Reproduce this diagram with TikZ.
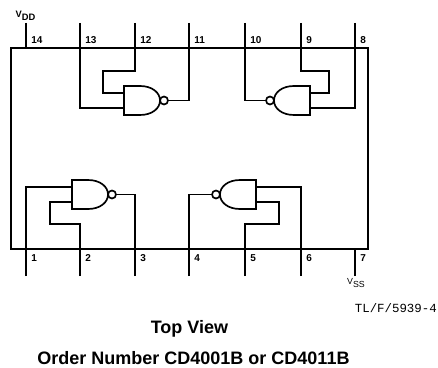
\documentclass[tikz,border=0pt]{standalone}
\usepackage{fontspec}
\setmainfont{Liberation Sans}
\setmonofont{Liberation Mono}
\tikzset{
	wire/.style={line width=1.25pt, line join=miter},
	pinlabel/.style={font=\fontsize{7.5}{8}\selectfont\bfseries, inner sep=0pt, anchor=west},
	railname/.style={font=\fontsize{6.6}{8}\selectfont, inner sep=0pt},
	title/.style={font=\fontsize{13.5}{15}\selectfont\bfseries, inner sep=0pt, anchor=base},
	pics/nandgate/.style={code={
		\draw[wire] (0,-14.5) -- (16,-14.5) .. controls (28,-14.5) and (36,-8) .. (36,0)
			.. controls (36,8) and (28,14.5) .. (16,14.5) -- (0,14.5) -- cycle;
		\draw[wire] (40,0) circle[radius=4];
		\coordinate (-in1) at (0,-7.5);
		\coordinate (-in2) at (0,7.5);
		\coordinate (-out) at (44,0);
	}},
}
\begin{document}
\begin{tikzpicture}[x=0.75pt,y=-0.75pt]
		\useasboundingbox (0,0) rectangle (438,367);
		\node[draw, line width=1.25pt, minimum width=267.75pt, minimum height=150.75pt, inner sep=0pt, outer sep=0pt] (chip) at (189.5,148.5) {};
		
		% top row of pins
		\foreach \n/\x in {14/26, 13/80, 12/135, 11/189, 10/245, 9/301, 8/355}{
			\coordinate (end\n) at (\x,23);
			\coordinate (edge\n) at (\x,48);
			\draw[wire] (end\n) -- (edge\n);
			\node[pinlabel] (label\n) at ({\x+5},40) {\n};
		}
		% bottom row of pins
		\foreach \n/\x in {1/26, 2/80, 3/135, 4/189, 5/245, 6/301, 7/355}{
			\coordinate (end\n) at (\x,276);
			\coordinate (edge\n) at (\x,249);
			\draw[wire] (end\n) -- (edge\n);
			\node[pinlabel] (label\n) at ({\x+5},258.5) {\n};
		}
		
		\pic (gateA) at (124,100.5) {nandgate};
		\pic[rotate=180] (gateB) at (310,100.5) {nandgate};
		\pic (gateC) at (72,194.5) {nandgate};
		\pic[rotate=180] (gateD) at (256,194.5) {nandgate};
		
		\coordinate (jogA) at (103,71);
		\coordinate (jogB) at (329,71);
		\coordinate (jogC) at (50,224);
		\coordinate (jogD) at (279,224);
		
		\draw[wire] (edge12) |- (jogA) |- (gateA-in1);
		\draw[wire] (edge13) |- (gateA-in2);
		\draw[wire] (gateA-out) -| (edge11);
		
		\draw[wire] (edge9) |- (jogB) |- (gateB-in2);
		\draw[wire] (edge8) |- (gateB-in1);
		\draw[wire] (gateB-out) -| (edge10);
		
		\draw[wire] (edge1) |- (gateC-in1);
		\draw[wire] (edge2) |- (jogC) |- (gateC-in2);
		\draw[wire] (gateC-out) -| (edge3);
		
		\draw[wire] (edge6) |- (gateD-in2);
		\draw[wire] (edge5) |- (jogD) |- (gateD-in1);
		\draw[wire] (gateD-out) -| (edge4);
		
		\node[railname, font=\fontsize{7}{8}\selectfont\bfseries] (vdd) at (25.5,15.5) {V\raisebox{-2.5pt}{DD}};
		\node[railname] (vss) at (356,283.5) {V\raisebox{-2.25pt}{SS}};
		
		\node[font=\fontsize{9.3}{10}\selectfont\ttfamily, inner sep=0pt, anchor=base east] (code) at (437,312) {TL/F/5939-4};
		\node[title] (view) at (189.5,333) {Top View};
		\node[title] (order) at (193.5,364) {Order Number CD4001B or CD4011B};
		\end{tikzpicture}
\end{document}
